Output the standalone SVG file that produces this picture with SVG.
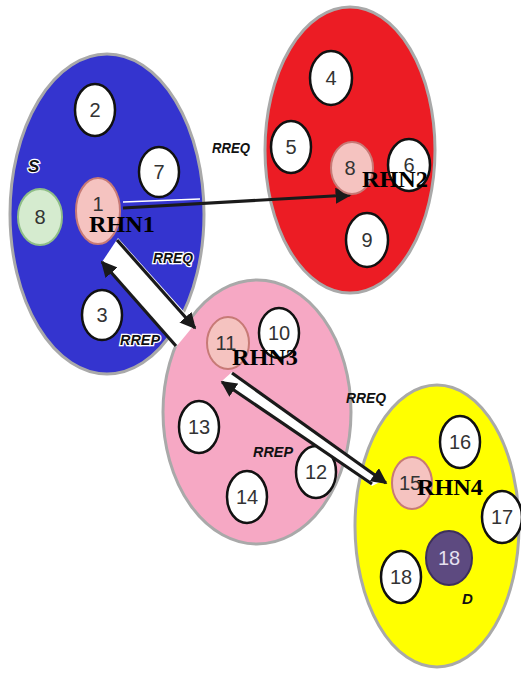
<svg xmlns="http://www.w3.org/2000/svg" width="521" height="673" viewBox="0 0 521 673">
<defs>
<marker id="ah" viewBox="0 0 10 10" refX="9" refY="5" markerWidth="5" markerHeight="5" orient="auto" markerUnits="strokeWidth">
<path d="M0,0 L10,5 L0,10 z" fill="#1a1a1a"/>
</marker>
<style>
.cl{stroke:#a9a9a9;stroke-width:3}
.nd{fill:#fff;stroke:#111;stroke-width:2.5}
.ph{fill:#f5c3c0;stroke:#c77a76;stroke-width:2}
.num{font-family:"Liberation Sans",Arial,sans-serif;font-size:20px;fill:#333;text-anchor:middle}
.rhn{font-family:"Liberation Serif","Times New Roman",serif;font-weight:bold;font-size:24px;fill:#000}
.lb{font-family:"Liberation Sans",Arial,sans-serif;font-weight:bold;font-style:italic;font-size:14px;fill:#111}
.lbw{font-family:"Liberation Sans",Arial,sans-serif;font-weight:bold;font-style:italic;font-size:14px;fill:#111;stroke:#fff;stroke-width:2.5;paint-order:stroke}
.ar{stroke:#1a1a1a;stroke-width:3.2;fill:none}
</style>
</defs>
<rect width="521" height="673" fill="#fff"/>

<g id="cluster-blue">
<ellipse cx="107" cy="214" rx="97" ry="160" fill="#3434cf" class="cl"/>
</g>
<g id="cluster-red">
<ellipse cx="350" cy="150" rx="85" ry="143" fill="#ec1c24" class="cl"/>
</g>
<g id="cluster-pink">
<ellipse cx="257" cy="412" rx="94" ry="132" fill="#f6a8c4" class="cl"/>
</g>
<g id="cluster-yellow">
<ellipse cx="437" cy="526" rx="82" ry="141" fill="#ffff00" class="cl"/>
</g>

<g id="n2"><ellipse cx="95" cy="110" rx="20" ry="26" class="nd"/><text x="95" y="117" class="num">2</text></g>
<g id="n7"><ellipse cx="159" cy="172" rx="20" ry="25" class="nd"/><text x="159" y="179" class="num">7</text></g>
<g id="nS8"><ellipse cx="40" cy="217" rx="22" ry="28" fill="#d5ebcf" stroke="#8fbe87" stroke-width="2"/><text x="40" y="224" class="num">8</text></g>
<g id="n3"><ellipse cx="102" cy="315" rx="20" ry="25" class="nd"/><text x="102" y="322" class="num">3</text></g>

<g id="n4"><ellipse cx="331" cy="78" rx="21" ry="27" class="nd"/><text x="331" y="85" class="num">4</text></g>
<g id="n5"><ellipse cx="291" cy="147" rx="20" ry="26" class="nd"/><text x="291" y="154" class="num">5</text></g>
<g id="n6"><ellipse cx="409" cy="165" rx="21" ry="26" class="nd"/><text x="409" y="172" class="num">6</text></g>
<g id="n9"><ellipse cx="367" cy="240" rx="21" ry="27" class="nd"/><text x="367" y="247" class="num">9</text></g>

<g id="n10"><ellipse cx="279" cy="333" rx="20" ry="25" class="nd"/><text x="279" y="340" class="num">10</text></g>
<g id="n13"><ellipse cx="199" cy="427" rx="20" ry="26" class="nd"/><text x="199" y="434" class="num">13</text></g>
<g id="n12"><ellipse cx="316" cy="472" rx="20" ry="26" class="nd"/><text x="316" y="479" class="num">12</text></g>
<g id="n14"><ellipse cx="247" cy="497" rx="20" ry="26" class="nd"/><text x="247" y="504" class="num">14</text></g>

<g id="n16"><ellipse cx="460" cy="442" rx="20" ry="26" class="nd"/><text x="460" y="449" class="num">16</text></g>
<g id="n17"><ellipse cx="502" cy="517" rx="20" ry="26" class="nd"/><text x="502" y="524" class="num">17</text></g>
<g id="nD18"><ellipse cx="449" cy="558" rx="23" ry="27" fill="#5d4a80" stroke="#3d2f5c" stroke-width="2"/><text x="449" y="565" class="num" style="fill:#e6e0f0">18</text></g>
<g id="n18"><ellipse cx="401" cy="577" rx="20" ry="26" class="nd"/><text x="401" y="584" class="num">18</text></g>

<g id="connectors">
<polygon points="118,238 195,324 176,347 102,262" fill="#fff"/>
<polygon points="232,372 384,480 372,486 222,381" fill="#fff"/>
<line x1="123" y1="202" x2="200" y2="199" stroke="#fff" stroke-width="1.5"/>
<line x1="123" y1="208" x2="350" y2="195" class="ar" marker-end="url(#ah)"/>
<line x1="117" y1="240" x2="195" y2="328" class="ar" marker-end="url(#ah)"/>
<line x1="176" y1="346" x2="102" y2="262" class="ar" marker-end="url(#ah)"/>
<line x1="232" y1="373" x2="386" y2="483" class="ar" marker-end="url(#ah)"/>
<line x1="372" y1="484" x2="222" y2="382" class="ar" marker-end="url(#ah)"/>
</g>

<g id="RHN1"><ellipse cx="98" cy="211" rx="22" ry="33" class="ph"/><text x="98" y="211" class="num">1</text><text x="89" y="232" class="rhn" textLength="66" lengthAdjust="spacingAndGlyphs">RHN1</text></g>
<g id="RHN2"><ellipse cx="352" cy="168" rx="21" ry="26" class="ph"/><text x="350" y="175" class="num">8</text><text x="362" y="187" class="rhn" textLength="66" lengthAdjust="spacingAndGlyphs">RHN2</text></g>
<g id="RHN3"><ellipse cx="228" cy="343" rx="21" ry="26" class="ph"/><text x="226" y="350" class="num">11</text><text x="232" y="365" class="rhn" textLength="66" lengthAdjust="spacingAndGlyphs">RHN3</text></g>
<g id="RHN4"><ellipse cx="412" cy="483" rx="20" ry="26" class="ph"/><text x="410" y="490" class="num">15</text><text x="417" y="495" class="rhn" textLength="66" lengthAdjust="spacingAndGlyphs">RHN4</text></g>

<g id="labels">
<text x="212" y="153" class="lb" textLength="38" lengthAdjust="spacingAndGlyphs">RREQ</text>
<text x="28" y="172" class="lbw" style="font-size:17px">S</text>
<text x="153" y="263" class="lbw" textLength="40" lengthAdjust="spacingAndGlyphs">RREQ</text>
<text x="120" y="345" class="lbw" textLength="40" lengthAdjust="spacingAndGlyphs">RREP</text>
<text x="346" y="403" class="lb" textLength="40" lengthAdjust="spacingAndGlyphs">RREQ</text>
<text x="253" y="457" class="lb" textLength="40" lengthAdjust="spacingAndGlyphs">RREP</text>
<text x="462" y="604" class="lb" style="font-size:15px">D</text>
</g>
</svg>
